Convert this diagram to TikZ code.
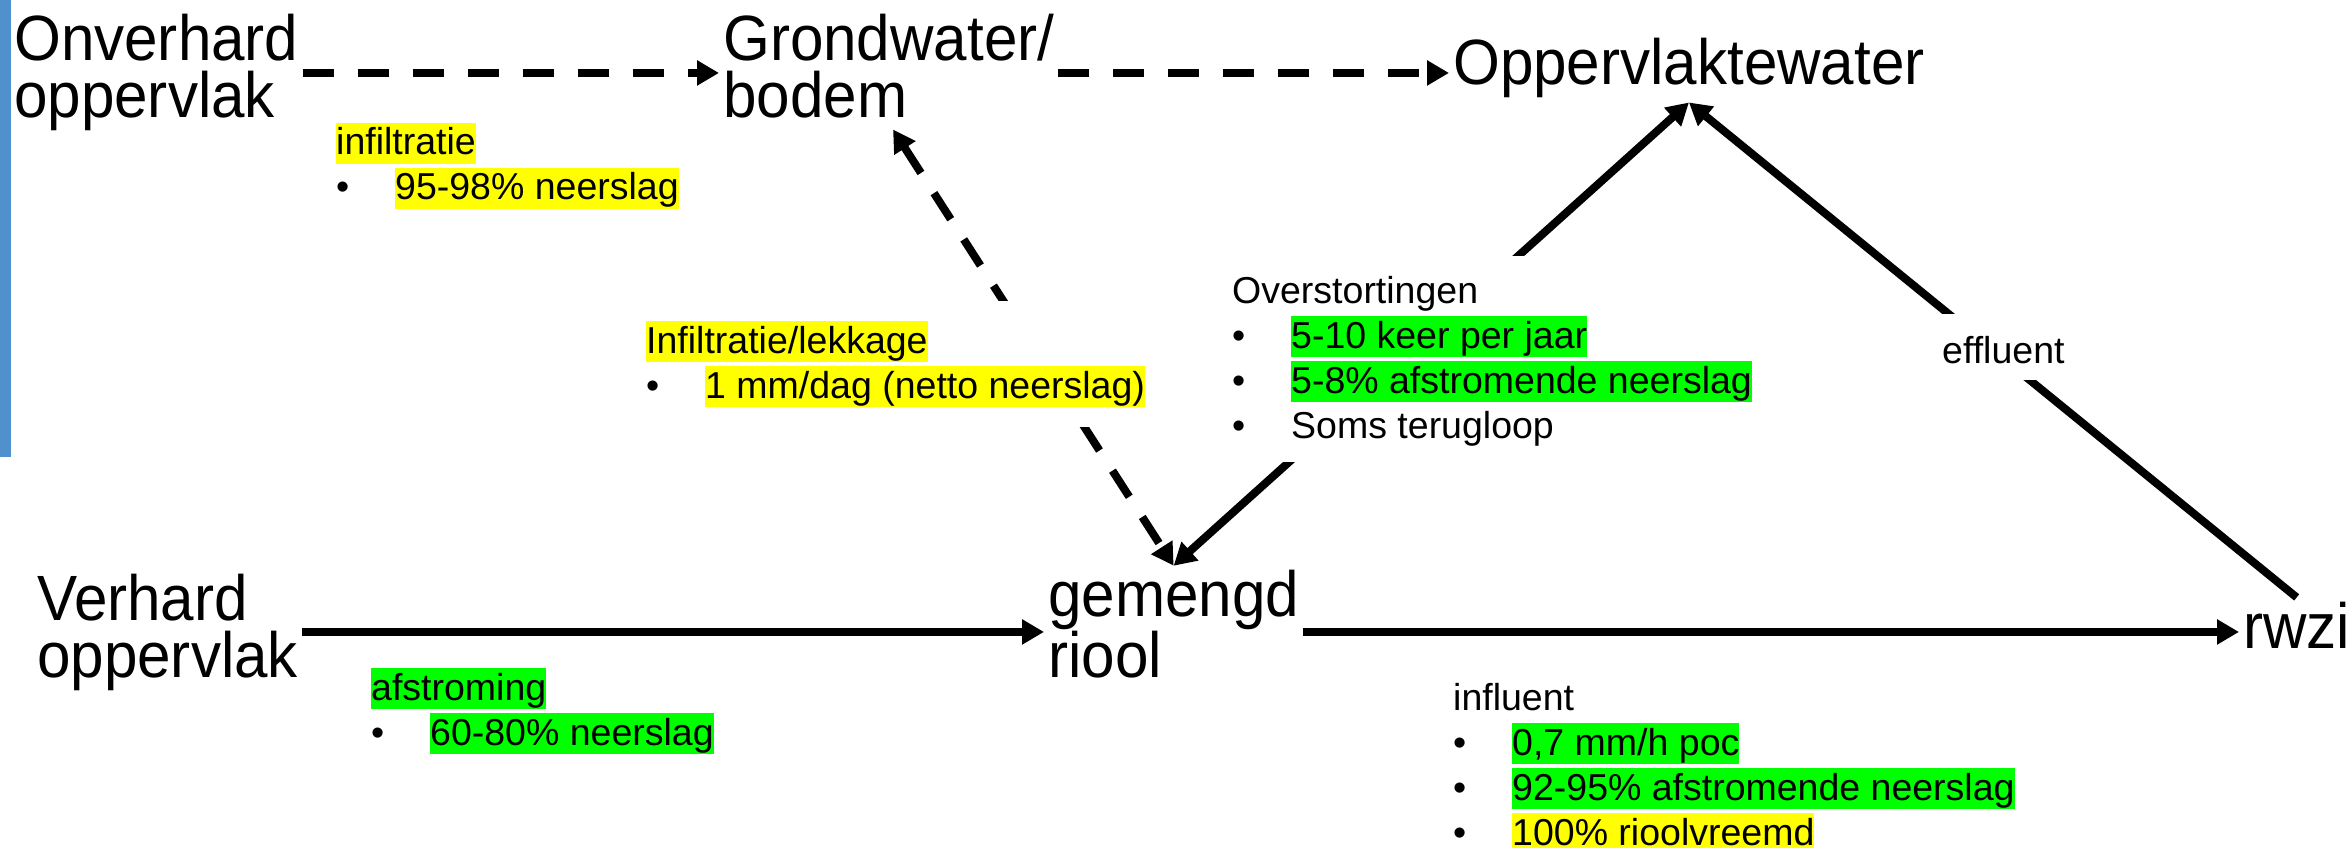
\documentclass[tikz,border=0pt]{standalone}
\usepackage{fontspec}
\setmainfont{Liberation Sans}
\newfontfamily\bigf{Liberation Sans}[FakeStretch=0.94]
\usetikzlibrary{arrows.meta}
\pgfdeclarelayer{bg}
\pgfsetlayers{bg,main}
\definecolor{barblue}{RGB}{80,144,205}
\definecolor{hlyellow}{RGB}{255,255,0}
\definecolor{hlgreen}{RGB}{0,255,0}
\setlength{\fboxsep}{0pt}
\newcommand\lnstrut{\rule[-9.4pt]{0pt}{41pt}}
\newcommand\hly[1]{\colorbox{hlyellow}{\lnstrut#1}}
\newcommand\hlg[1]{\colorbox{hlgreen}{\lnstrut#1}}
\newcommand\itm[1]{\makebox[59pt][l]{\textbullet}#1}
\begin{document}
\begin{tikzpicture}[x=1pt,y=-1pt,
  biglabel/.style={font=\bigf\fontsize{64}{57}\selectfont, align=left, inner sep=4pt, anchor=base west},
  blk/.style={font=\fontsize{37.5}{45}\selectfont, align=left, inner sep=0pt, anchor=base west},
  solidconn/.style={line width=8pt, arrows={-{Triangle[length=22pt,width=24pt]}}},
  dashconn/.style={line width=8pt, dash pattern=on 31pt off 24pt, arrows={-{Triangle[length=22pt,width=24pt]}}},
  bothtips/.style={arrows={{Triangle[length=22pt,width=24pt]}-{Triangle[length=22pt,width=24pt]}}}
]
\useasboundingbox (0,0) rectangle (2351,848);
\fill[barblue] (0,0) rectangle (11,457);

% main labels (base anchor = baseline of the last line)
\node[biglabel] (onv) at (10,118) {Onverhard\\oppervlak};
\node[biglabel] (grond) at (719,118) {Grondwater/\\bodem};
\node[biglabel] (opp) at (1449,85) {Oppervlaktewater};
\node[biglabel] (verh) at (33,677) {Verhard\\oppervlak};
\node[biglabel] (gem) at (1044,677) {gemengd\\riool};
\node[biglabel] (rwzi) at (2239,648) {rwzi};

% annotation blocks
\node[blk] (infA) at (336,200) {\hly{infiltratie}\\\itm{\hly{95-98\% neerslag}}};
\node[blk, fill=white, inner xsep=8pt, inner ysep=20pt] (infB) at (638,398)
  {\hly{Infiltratie/lekkage}\\\itm{\hly{1 mm/dag (netto neerslag)}}};
\node[blk, fill=white, inner xsep=8pt, inner ysep=15pt] (overst) at (1224,438)
  {\lnstrut Overstortingen\\\itm{\hlg{5-10 keer per jaar}}\\\itm{\hlg{5-8\% afstromende neerslag}}\\\itm{\lnstrut Soms terugloop}};
\node[blk] (afstr) at (371,745) {\hlg{afstroming}\\\itm{\hlg{60-80\% neerslag}}};
\node[blk] (influent) at (1453,845)
  {\lnstrut influent\\\itm{\hlg{0,7 mm/h poc}}\\\itm{\hlg{92-95\% afstromende neerslag}}\\\itm{\hly{100\% rioolvreemd}}};
\node[blk, fill=white, inner xsep=6pt] (effl) at (1936,363) {\rule[-17pt]{0pt}{66pt}effluent};

\begin{pgfonlayer}{bg}
\draw[dashconn] (onv.east) -- (onv.east -| grond.west);
\draw[dashconn] (grond.east |- onv.east) -- (opp.west |- onv.east);
\draw[solidconn] (verh.east) -- (verh.east -| gem.west);
\draw[solidconn] (gem.east |- verh.east) -- (rwzi.west |- verh.east);
\draw[dashconn, bothtips, shorten <=8pt] (grond.south) -- (gem.north);
\draw[solidconn, bothtips] (gem.north) -- (opp.south);
\draw[solidconn] (rwzi.north) -- (opp.south);
\end{pgfonlayer}
\end{tikzpicture}
\end{document}
